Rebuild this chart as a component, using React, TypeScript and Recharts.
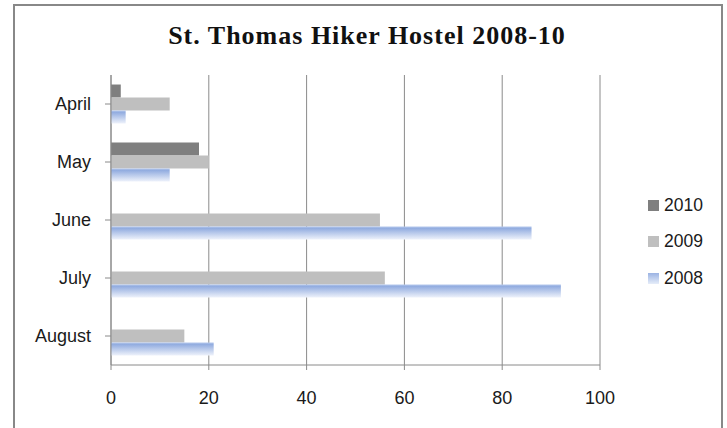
import React from 'react';
import { BarChart, Bar, XAxis, YAxis, CartesianGrid, Legend } from 'recharts';

const months = ['April', 'May', 'June', 'July', 'August'];
const y2010 = [2, 18, 0, 0, 0];
const y2009 = [12, 20, 55, 56, 15];
const y2008 = [3, 12, 86, 92, 21];
const xTicks = [0, 20, 40, 60, 80, 100];
const title = 'St. Thomas Hiker Hostel 2008-10';

const data = months.map((m, i) => ({ month: m, y2010: y2010[i], y2009: y2009[i], y2008: y2008[i] }));

const legendItems = [
  { key: 'y2010', label: '2010', fill: '#7f7f7f' },
  { key: 'y2009', label: '2009', fill: '#bfbfbf' },
  { key: 'y2008', label: '2008', fill: 'url(#blueGrad)' },
];

const font = '"Liberation Sans", Arial, sans-serif';

const LegendContent = () => (
  <div style={{ fontFamily: font, fontSize: 17.5, color: '#1a1a1a' }}>
    {legendItems.map((it) => (
      <div key={it.key} style={{ display: 'flex', alignItems: 'center', height: 36.5 }}>
        <div
          style={{
            width: 11,
            height: 11,
            marginRight: 5,
            background:
              it.key === 'y2008'
                ? 'linear-gradient(#9bb3e3, #e6edf9)'
                : it.fill,
          }}
        />
        <span>{it.label}</span>
      </div>
    ))}
  </div>
);

export default function App() {
  return (
    <div style={{ position: 'absolute', left: 0, top: 0, width: 727, height: 428, background: '#fff', overflow: 'hidden' }}>
      <div
        style={{
          position: 'absolute',
          left: 13,
          top: 4,
          width: 710,
          height: 440,
          border: '2px solid #888',
          boxSizing: 'border-box',
        }}
      />
      <div
        style={{
          position: 'absolute',
          left: 0,
          width: 734,
          top: 21,
          lineHeight: '30px',
          textAlign: 'center',
          fontFamily: '"Liberation Serif", "Times New Roman", serif',
          fontWeight: 'bold',
          fontSize: 26,
          letterSpacing: 1,
          color: '#111',
        }}
      >
        {title}
      </div>
      <div style={{ position: 'absolute', left: 0, top: 0 }}>
        <BarChart
          width={727}
          height={428}
          data={data}
          layout="vertical"
          margin={{ top: 75, right: 127, bottom: 33, left: 11 }}
          barCategoryGap="16.4%"
          barGap={0}
        >
          <defs>
            <linearGradient id="blueGrad" x1="0" y1="0" x2="0" y2="1">
              <stop offset="0%" stopColor="#b4c7ec" />
              <stop offset="15%" stopColor="#93ade0" />
              <stop offset="100%" stopColor="#eef2fb" />
            </linearGradient>
          </defs>
          <CartesianGrid horizontal={false} stroke="#8a8a8a" strokeWidth={1} />
          <XAxis
            type="number"
            domain={[0, 100]}
            ticks={xTicks}
            height={30}
            tickSize={5}
            tickMargin={21}
            stroke="#8a8a8a"
            tick={{ fill: '#1a1a1a', fontSize: 18, fontFamily: font }}
            interval={0}
          />
          <YAxis
            type="category"
            dataKey="month"
            width={100}
            tickSize={6}
            tickMargin={14}
            stroke="#8a8a8a"
            tick={{ fill: '#1a1a1a', fontSize: 18, fontFamily: font }}
            interval={0}
          />
          {legendItems.map((it) => (
            <Bar key={it.key} dataKey={it.key} name={it.label} fill={it.fill} isAnimationActive={false} />
          ))}
          <Legend
            layout="vertical"
            align="center"
            verticalAlign="middle"
            content={<LegendContent />}
            wrapperStyle={{ left: 648, top: 187, width: 80 }}
          />
        </BarChart>
      </div>
    </div>
  );
}
